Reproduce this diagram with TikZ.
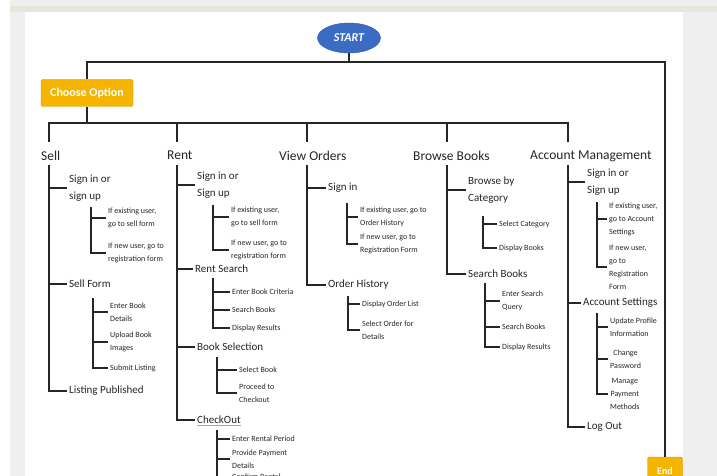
\documentclass[tikz,border=0pt]{standalone}
\usepackage{fontspec}
\setmainfont{Carlito}
\usepackage{xcolor}
\usetikzlibrary{shapes.geometric}
\definecolor{flowBlue}{HTML}{3A6CC4}
\definecolor{flowGold}{HTML}{F4B400}
\definecolor{flowInk}{HTML}{262626}
\definecolor{flowGrey}{HTML}{EFEFEF}
\definecolor{flowStrip}{HTML}{E6E6DA}
\definecolor{flowRed}{HTML}{E58A8A}

\begin{document}
\begin{tikzpicture}[x=1pt, y=-1pt, every node/.style={text=flowInk},
  wire/.style={draw=flowInk, line width=1.05pt},
  hdr/.style={anchor=west, inner sep=1pt, font=\fontsize{13.5}{16}\selectfont},
  opt/.style={anchor=west, inner sep=2pt, align=left, font=\fontsize{11}{17}\selectfont},
  sub/.style={anchor=west, inner sep=2pt, align=left, font=\fontsize{8}{13}\selectfont},
  term/.style={fill=flowGold, draw=flowGold!85!black, rounded corners=2pt, text=white,
               font=\bfseries\fontsize{12}{14}\selectfont}]
\useasboundingbox (0,0) rectangle (717,476);
\clip (0,0) rectangle (717,476);
% ---- page behind the chart
\fill[white] (0,0) rectangle (717,476);
\fill[flowGrey] (10,0) rectangle (717,476);
\fill[flowStrip] (10,6) rectangle (717,12);
\fill[white] (25,12) rectangle (683,476);
% ---- start / choose / end
\node[ellipse, fill=flowBlue, draw=flowBlue!80!black, minimum width=63pt, minimum height=30pt,
      inner sep=0pt, text=white, font=\bfseries\itshape\fontsize{12}{14}\selectfont] (start) at (349,38) {START};
\node[term, minimum width=92pt, minimum height=27pt] (choose) at (87,93) {Choose Option};
\node[term, minimum width=35pt, minimum height=28pt, font=\bfseries\fontsize{10}{12}\selectfont] (finish) at (665,471) {End};
\coordinate (topbar) at (349,62);
\draw[wire] (start.south) -- (topbar);
\draw[wire] (topbar) -| (choose.north);
\draw[wire] (topbar) -| (finish.north);
\coordinate (optbar) at (87,123);
\draw[wire] (choose.south) -- (optbar);
% ---- main options
\node[hdr] (sell) at (40,156) {Sell};
\node[hdr] (rent) at (166,155) {Rent};
\node[hdr] (vieworders) at (278,156) {View Orders};
\node[hdr] (browse) at (412,156) {Browse Books};
\node[hdr] (account) at (529,156) {Account Management};
\foreach \hd/\sx in {sell/49, rent/177, vieworders/307, browse/447, account/568} {
  \coordinate (\hd-top) at (\sx,142);
  \coordinate (\hd-foot) at (\sx,165);
  \draw[wire] (optbar) -| (\hd-top);
}
% ---- sell
\node[opt] (sellsign) at (67,188) {Sign in or\\sign up};
\node[opt] (sellform) at (67,284) {Sell Form};
\node[opt] (selllisted) at (67,391) {Listing Published};
\coordinate (sellsignbar) at (91,207);
\node[sub] (sellold) at (106,218) {If existing user,\\go to sell form};
\node[sub] (sellnew) at (106,253) {If new user, go to\\registration form};
\coordinate (sellformbar) at (93,298);
\node[sub] (selldetails) at (108,312) {Enter Book\\Details};
\node[sub] (sellimages) at (108,342) {Upload Book\\Images};
\node[sub] (sellsubmit) at (108,368) {Submit Listing};
% ---- rent
\node[opt] (rentsign) at (195,185) {Sign in or\\Sign up};
\node[opt] (rentsearch) at (193,269) {Rent Search};
\node[opt] (rentselect) at (195,347) {Book Selection};
\node[opt] (rentcheckout) at (195,420) {CheckOut};
\draw[flowRed, line width=0.6pt] ([xshift=2pt,yshift=1pt]rentcheckout.south west) -- ([xshift=-2pt,yshift=1pt]rentcheckout.south east);
\coordinate (rentsignbar) at (213,205);
\node[sub] (rentold) at (229,217) {If existing user,\\go to sell form};
\node[sub] (rentnew) at (229,250) {If new user, go to\\registration form};
\coordinate (rentsearchbar) at (213,278);
\node[sub] (rentcriteria) at (230,292) {Enter Book Criteria};
\node[sub] (rentbooks) at (230,310) {Search Books};
\node[sub] (rentresults) at (230,328) {Display Results};
\coordinate (rentselectbar) at (217,357);
\node[sub] (rentpick) at (237,370) {Select Book};
\node[sub] (rentproceed) at (237,393) {Proceed to\\Checkout};
\coordinate (rentcheckoutbar) at (217,430);
\node[sub] (rentperiod) at (230,439) {Enter Rental Period};
\node[sub] (rentpay) at (230,459) {Provide Payment\\Details};
\node[sub] (rentconfirm) at (230,477) {Confirm Rental};
% ---- view orders
\node[opt] (vosign) at (326,188) {Sign in};
\node[opt] (vohistory) at (326,285) {Order History};
\coordinate (vosignbar) at (347,203);
\node[sub] (voold) at (358,217) {If existing user, go to\\Order History};
\node[sub] (vonew) at (358,244) {If new user, go to\\Registration Form};
\coordinate (vohistorybar) at (348,296);
\node[sub] (volist) at (360,304) {Display Order List};
\node[sub] (vodetails) at (360,330) {Select Order for\\Details};
% ---- browse books
\node[opt] (bbcategory) at (466,190) {Browse by\\Category};
\node[opt] (bbsearch) at (466,274) {Search Books};
\coordinate (bbcategorybar) at (483,216);
\node[sub] (bbselect) at (497,224) {Select Category};
\node[sub] (bbdisplay) at (497,248) {Display Books};
\coordinate (bbsearchbar) at (485,283);
\node[sub] (bbquery) at (500,301) {Enter Search\\Query};
\node[sub] (bbbooks) at (500,327) {Search Books};
\node[sub] (bbresults) at (500,347) {Display Results};
% ---- account management
\node[opt] (amsign) at (585,182) {Sign in or\\Sign up};
\node[opt] (amsettings) at (581,303) {Account Settings};
\node[opt] (amlogout) at (585,427) {Log Out};
\coordinate (amsignbar) at (597,202);
\node[sub] (amold) at (607,219) {If existing user,\\go to Account\\Settings};
\node[sub] (amnew) at (607,267) {If new user,\\go to\\Registration\\Form};
\coordinate (amsettingsbar) at (597,313);
\node[sub] (amprofile) at (608,327) {Update Profile\\Information};
\node[sub, align=center] (ampassword) at (608,359) {Change\\Password};
\node[sub, align=center] (ampayment) at (608,394) {Manage\\Payment\\Methods};
% ---- brackets
\foreach \trunk/\kids in {
    sell-foot/{sellsign,sellform,selllisted},
    sellsignbar/{sellold,sellnew},
    sellformbar/{selldetails,sellimages,sellsubmit},
    rent-foot/{rentsign,rentsearch,rentselect,rentcheckout},
    rentsignbar/{rentold,rentnew},
    rentsearchbar/{rentcriteria,rentbooks,rentresults},
    rentselectbar/{rentpick,rentproceed},
    rentcheckoutbar/{rentperiod,rentpay,rentconfirm},
    vieworders-foot/{vosign,vohistory},
    vosignbar/{voold,vonew},
    vohistorybar/{volist,vodetails},
    browse-foot/{bbcategory,bbsearch},
    bbcategorybar/{bbselect,bbdisplay},
    bbsearchbar/{bbquery,bbbooks,bbresults},
    account-foot/{amsign,amsettings,amlogout},
    amsignbar/{amold,amnew},
    amsettingsbar/{amprofile,ampassword,ampayment}}
  \foreach \kid in \kids
    \draw[wire] (\trunk) |- (\kid.west);
\end{tikzpicture}
\end{document}
